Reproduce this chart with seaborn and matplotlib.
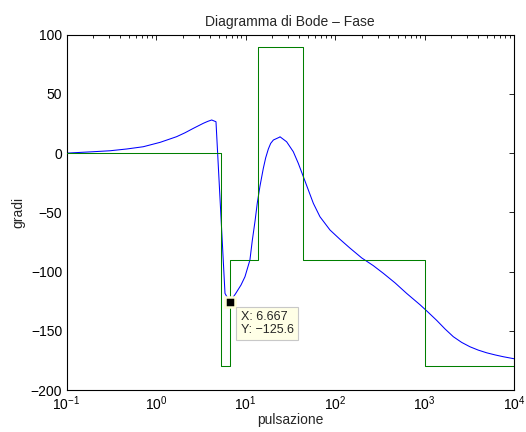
import matplotlib
matplotlib.use("Agg")
import matplotlib.pyplot as plt
import pandas as pd
import seaborn as sns
from matplotlib.ticker import LogLocator, NullFormatter, MultipleLocator

# Phase response (rad/s, degrees)
omega = [0.1, 0.2, 0.306, 0.471, 0.72, 1.11, 1.375, 1.70, 2.11, 2.61,
         3.38, 3.78, 4.19, 4.68, 5.90, 6.667, 7.7, 8.9, 9.86, 11.2,
         11.9, 12.8, 13.55, 14.5, 15.8, 16.8, 18.0, 19.1, 20.5, 23.9,
         24.3, 28.8, 34.2, 38.9, 44.3, 50.4, 57.3, 67.9, 87.9, 113.8,
         147, 199, 268, 347, 468, 631, 897, 1086, 1368, 1698,
         2099, 2600, 3221, 3981, 4955, 6166, 7586, 10000]
phase = [0.0, 1.2, 2.0, 3.5, 5.4, 9.1, 11.5, 13.9, 17.2, 20.9,
         25.2, 26.8, 28.0, 26.5, -118.4, -125.6, -119.0, -111.4, -104.4, -90.3,
         -74.0, -57.0, -42.0, -28.0, -13.0, -4.0, 3.5, 8.2, 11.1, 13.4,
         13.8, 9.6, 1.2, -8.6, -19.9, -31.2, -42.4, -53.7, -64.9, -72.8,
         -80.2, -88.5, -95.0, -101.5, -109.5, -118.4, -128.2, -134.0, -141.2, -148.5,
         -155.0, -159.8, -163.5, -166.3, -168.6, -170.4, -171.9, -173.6]

# Asymptotic (step) approximation of the phase
step_omega = [0.1, 5.3, 6.7, 13.7, 44.3, 1000, 10000]
step_phase = [0, -180, -90, 90, -90, -180, -180]

# Data tip
tip_x = 6.667
tip_y = -125.6

sns.set_style("white")
plt.rcParams["font.family"] = ["Liberation Sans", "DejaVu Sans"]
plt.rcParams["font.size"] = 10
plt.rcParams["axes.unicode_minus"] = True

fig = plt.figure(figsize=(5.26, 4.32), dpi=100)
ax = fig.add_axes([66.5 / 526, 42 / 432, (514 - 66.5) / 526, 355.3 / 432])
ax.set_xscale("log")

curve = pd.DataFrame({"omega": omega, "phase": phase})
asym = pd.DataFrame({"omega": step_omega, "phase": step_phase})

sns.lineplot(data=curve, x="omega", y="phase", color="#0000ff", linewidth=0.75,
             estimator=None, sort=False, ax=ax, zorder=2)
sns.lineplot(data=asym, x="omega", y="phase", color="#007f00", linewidth=0.75,
             estimator=None, sort=False, drawstyle="steps-post", ax=ax, zorder=3)

ax.set_xlim(0.1, 1e4)
ax.set_ylim(-200, 100)
ax.yaxis.set_major_locator(MultipleLocator(50))
ax.xaxis.set_major_locator(LogLocator(base=10, numticks=10))
ax.xaxis.set_minor_locator(LogLocator(base=10, subs=range(2, 10), numticks=20))
ax.xaxis.set_minor_formatter(NullFormatter())

for s in ax.spines.values():
    s.set_color("black")
    s.set_linewidth(0.8)
    s.set_visible(True)

ax.tick_params(which="both", direction="in", top=True, right=True,
               colors="black", width=0.6, labelsize=10)
ax.tick_params(which="major", length=3.3, pad=3)
ax.tick_params(which="minor", length=2.2)

ax.set_title("Diagramma di Bode – Fase", fontsize=10, pad=6)
ax.set_xlabel("pulsazione", fontsize=10, labelpad=0)
ax.set_ylabel("gradi", fontsize=10, labelpad=4)

# Data tip marker and label
ax.plot([tip_x], [tip_y], marker="s", markersize=7, markerfacecolor="black",
        markeredgecolor="#ffffd8", markeredgewidth=1.8, zorder=5)
ax.annotate(f"X: {tip_x:.3f}\nY: \u2212{abs(tip_y):.1f}", xy=(tip_x, tip_y),
            xytext=(11, -9), textcoords="offset pixels", ha="left", va="top",
            fontsize=9, linespacing=1.1, zorder=6,
            bbox=dict(boxstyle="square,pad=0.35", facecolor="#ffffe6",
                      edgecolor="#c8c8c8", linewidth=0.8))

fig.savefig("out.png", dpi=100)
